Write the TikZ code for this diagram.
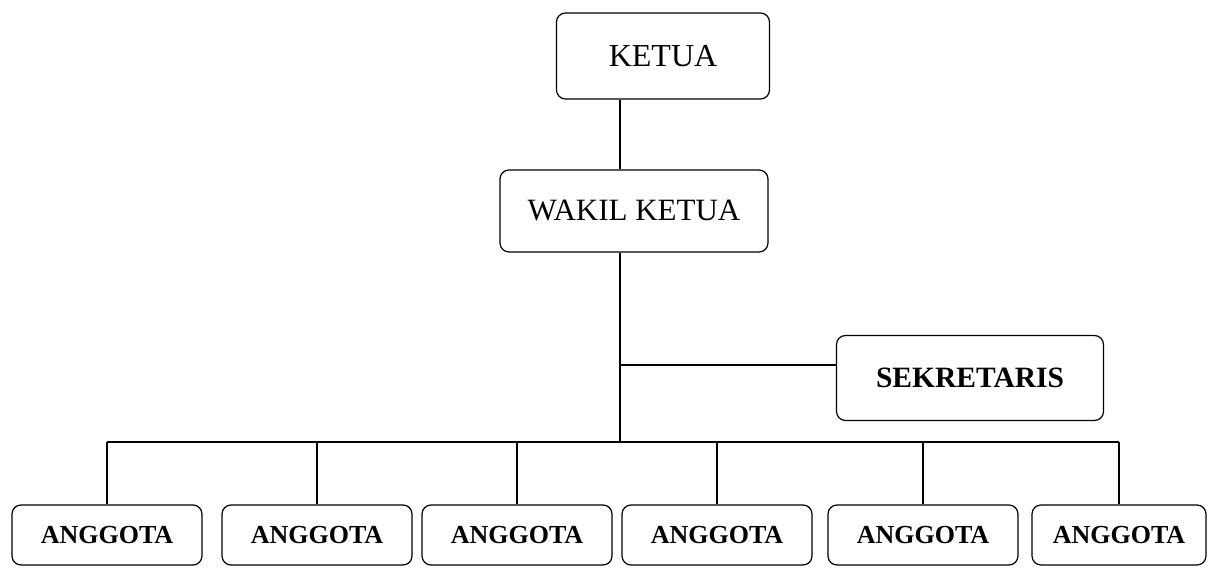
\documentclass[tikz,border=0pt]{standalone}
\usepackage{fontspec}
\setmainfont{Liberation Serif}
\begin{document}
\begin{tikzpicture}[x=1pt,y=-1pt,
  box/.style={draw, line width=1.2pt, rounded corners=9pt, inner sep=0pt, align=center},
  link/.style={line width=1.2pt},
  anggota/.style={box, minimum width=190pt, minimum height=60pt, font=\fontsize{26}{30}\selectfont\bfseries}]
\useasboundingbox (0,0) rectangle (1216,577);
\node[box, minimum width=213pt, minimum height=86pt, font=\fontsize{32}{36}\selectfont] (ketua) at (663,56) {KETUA};
\node[box, minimum width=268pt, minimum height=82pt, font=\fontsize{31}{35}\selectfont] (wakil) at (634,211) {WAKIL KETUA};
\node[box, minimum width=267pt, minimum height=85pt, font=\fontsize{29.5}{33}\selectfont\bfseries] (sek) at (970,378) {SEKRETARIS};
\node[anggota] (a1) at (107,535) {ANGGOTA};
\node[anggota] (a2) at (317,535) {ANGGOTA};
\node[anggota] (a3) at (517,535) {ANGGOTA};
\node[anggota] (a4) at (717,535) {ANGGOTA};
\node[anggota] (a5) at (923,535) {ANGGOTA};
\node[anggota, minimum width=174pt] (a6) at (1119,535) {ANGGOTA};
\coordinate (j) at (620,442);
\coordinate (s) at (620,365);
\draw[link] (ketua.south -| j) -- (wakil.north -| j);
\draw[link] (wakil.south -| j) -- (j);
\draw[link] (s) -- (s -| sek.west);
\draw[link] (a1.north |- j) -- (a6.north |- j);
\foreach \n in {a1,a2,a3,a4,a5,a6} \draw[link] (\n.north |- j) -- (\n.north);
\end{tikzpicture}
\end{document}
